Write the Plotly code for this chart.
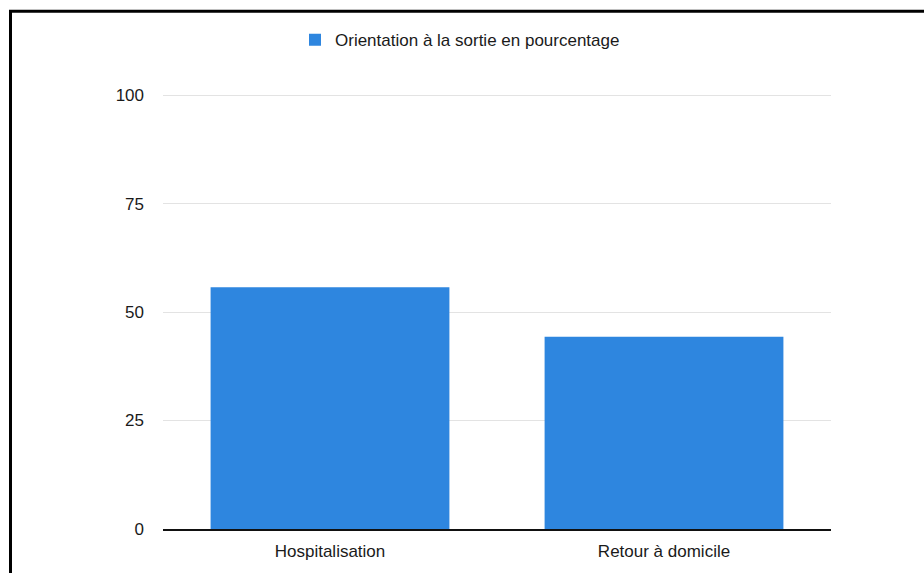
import plotly.graph_objects as go

categories = ["Hospitalisation", "Retour à domicile"]
values = [55.7, 44.3]
series_name = "Orientation à la sortie en pourcentage"
y_ticks = [0, 25, 50, 75, 100]

W, H = 924, 573
L, R, T, B = 163, 93, 93, 42
pw, ph = W - L - R, H - T - B

def px_x(p):
    return (p - L) / pw

def px_y(p):
    return (H - B - p) / ph

FONT = "Liberation Sans, Arial, Helvetica, sans-serif"

fig = go.Figure()
fig.add_trace(go.Bar(
    x=categories, y=values, name=series_name,
    marker=dict(color="#2e86df", line=dict(width=0)),
    showlegend=True,
))

fig.update_layout(
    width=W, height=H,
    margin=dict(l=L, r=R, t=T, b=B, pad=0),
    paper_bgcolor="white", plot_bgcolor="white",
    bargap=0.285,
    font=dict(family=FONT, size=17, color="#1a1a1a"),
    showlegend=True,
    legend=dict(
        orientation="h", x=px_x(295), xanchor="left",
        y=px_y(40), yanchor="middle",
        font=dict(size=17, color="#1a1a1a"),
        bgcolor="rgba(0,0,0,0)",
    ),
    xaxis=dict(
        showgrid=False, showline=True, linecolor="#111", linewidth=1.5,
        ticks="", ticklabelstandoff=6, zeroline=False,
    ),
    yaxis=dict(
        range=[0, 100.5], tickvals=y_ticks, showgrid=True,
        gridcolor="#e3e3e3", gridwidth=1, zeroline=False,
        showline=False, ticks="", ticklabelstandoff=18,
    ),
    shapes=[
        dict(type="path", xref="paper", yref="paper",
             path=f"M {px_x(10.5)},{px_y(600)} L {px_x(10.5)},{px_y(11)} L {px_x(960)},{px_y(11)}",
             line=dict(color="black", width=3)),
    ],
)

fig.write_html("out.html")
